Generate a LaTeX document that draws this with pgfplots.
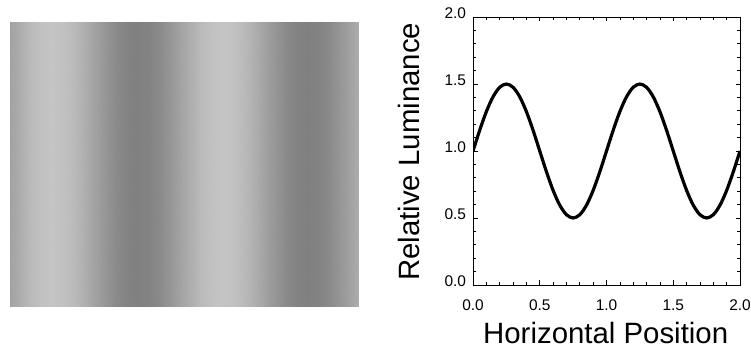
\documentclass[border=0pt]{standalone}
\usepackage{pgfplots}
\pgfplotsset{compat=1.18}
\usepackage{fontspec}
\setmainfont{Liberation Sans}
\begin{document}
\begin{tikzpicture}
\useasboundingbox (0,0) rectangle (751bp,347bp);
% grating image
\begin{axis}[
  at={(10bp,40.3bp)}, anchor=south west,
  scale only axis, width=349bp, height=284.7bp,
  hide axis, view={0}{90},
  xmin=0, xmax=349, ymin=0, ymax=1,
  enlargelimits=false,
  colormap={grating}{rgb255=(128,128,128) rgb255=(196,196,196)},
  point meta min=0.5, point meta max=1.5,
]
\addplot3[surf, shader=interp] coordinates {
(0,0,1.0) (10.625,0,1.1913) (21.25,0,1.3536) (31.875,0,1.4619) (42.5,0,1.5) (53.125,0,1.4619) (63.75,0,1.3536) (74.375,0,1.1913)
(85,0,1.0) (95.625,0,0.8087) (106.25,0,0.6464) (116.875,0,0.5381) (127.5,0,0.5) (138.125,0,0.5381) (148.75,0,0.6464) (159.375,0,0.8087)
(170,0,1.0) (180.625,0,1.1913) (191.25,0,1.3536) (201.875,0,1.4619) (212.5,0,1.5) (223.125,0,1.4619) (233.75,0,1.3536) (244.375,0,1.1913)
(255,0,1.0) (265.625,0,0.8087) (276.25,0,0.6464) (286.875,0,0.5381) (297.5,0,0.5) (308.125,0,0.5381) (318.75,0,0.6464) (329.375,0,0.8087)
(340,0,1.0) (349,0,1.1633)

(0,1,1.0) (10.625,1,1.1913) (21.25,1,1.3536) (31.875,1,1.4619) (42.5,1,1.5) (53.125,1,1.4619) (63.75,1,1.3536) (74.375,1,1.1913)
(85,1,1.0) (95.625,1,0.8087) (106.25,1,0.6464) (116.875,1,0.5381) (127.5,1,0.5) (138.125,1,0.5381) (148.75,1,0.6464) (159.375,1,0.8087)
(170,1,1.0) (180.625,1,1.1913) (191.25,1,1.3536) (201.875,1,1.4619) (212.5,1,1.5) (223.125,1,1.4619) (233.75,1,1.3536) (244.375,1,1.1913)
(255,1,1.0) (265.625,1,0.8087) (276.25,1,0.6464) (286.875,1,0.5381) (297.5,1,0.5) (308.125,1,0.5381) (318.75,1,0.6464) (329.375,1,0.8087)
(340,1,1.0) (349,1,1.1633)
};
\end{axis}
% luminance profile
\begin{axis}[
  at={(473bp,62bp)}, anchor=south west,
  scale only axis, width=267bp, height=268bp,
  xmin=0, xmax=2, ymin=0, ymax=2,
  xtick={0,0.5,1,1.5,2}, ytick={0,0.5,1,1.5,2},
  minor tick num=4,
  tick align=inside,
  major tick length=4.5bp, minor tick length=2.8bp,
  every tick/.style={black, line width=0.7bp},
  axis line style={black, line width=0.9bp},
  /pgf/number format/assume math mode=true,
  /pgf/number format/.cd, fixed, fixed zerofill, precision=1,
  /pgfplots/.cd,
  tick label style={font=\fontsize{15.5}{18}\selectfont},
  xticklabel style={yshift=-11bp},
  yticklabel style={xshift=-3.5bp, yshift=3.5bp},
  label style={font=\fontsize{29.5}{34}\selectfont},
  xlabel={Horizontal Position},
  ylabel={Relative Luminance},
  xlabel style={at={(axis description cs:0.497,-0.180)}, anchor=center},
  ylabel style={at={(axis description cs:-0.2416,0.497)}, anchor=center},
]
\addplot[black, line width=3.2bp, smooth] coordinates {
(0,1.0) (0.05,1.1545) (0.1,1.2939) (0.15,1.4045) (0.2,1.4755) (0.25,1.5) (0.3,1.4755) (0.35,1.4045) (0.4,1.2939) (0.45,1.1545)
(0.5,1.0) (0.55,0.8455) (0.6,0.7061) (0.65,0.5955) (0.7,0.5245) (0.75,0.5) (0.8,0.5245) (0.85,0.5955) (0.9,0.7061) (0.95,0.8455)
(1.0,1.0) (1.05,1.1545) (1.1,1.2939) (1.15,1.4045) (1.2,1.4755) (1.25,1.5) (1.3,1.4755) (1.35,1.4045) (1.4,1.2939) (1.45,1.1545)
(1.5,1.0) (1.55,0.8455) (1.6,0.7061) (1.65,0.5955) (1.7,0.5245) (1.75,0.5) (1.8,0.5245) (1.85,0.5955) (1.9,0.7061) (1.95,0.8455)
(2.0,1.0)
};
\end{axis}
\end{tikzpicture}
\end{document}
